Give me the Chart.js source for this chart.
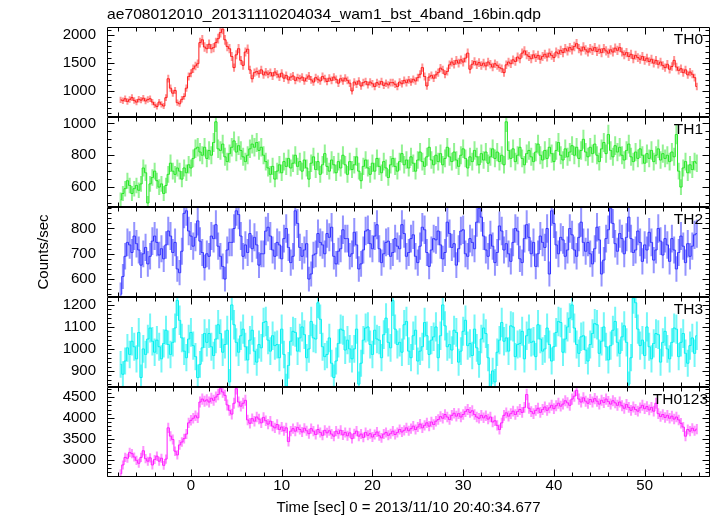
<!DOCTYPE html>
<html>
<head>
<meta charset="utf-8">
<script src="https://cdn.jsdelivr.net/npm/chart.js@4.4.1/dist/chart.umd.min.js"></script>
<style>
  html, body { margin: 0; padding: 0; background: #fff; }
  #wrap { width: 717px; height: 516px; }
</style>
</head>
<body>
<div id="wrap"><canvas id="lc" width="717" height="516"></canvas></div>
<script>
// 16-bin light curve: 0.25 s bins, first bin centre at -7.75 s
const T0 = -7.75;
const DT = 0.25;

const th0 = [
  840, 825, 860, 810, 845, 880, 830, 800, 850, 835, 870, 820, 845, 860, 800, 750, 720, 800, 760, 730,
  880, 1220, 1050, 960, 1010, 790, 770, 850, 900, 1050, 1260, 1320, 1400, 1450, 1490, 1870, 1920, 1790, 1760, 1840,
  1760, 1780, 1870, 1940, 2050, 2110, 1920, 1800, 1760, 1620, 1420, 1650, 1760, 1550, 1460, 1700, 1750, 1380, 1220, 1330,
  1350, 1310, 1380, 1290, 1340, 1300, 1330, 1270, 1340, 1300, 1250, 1320, 1230, 1280, 1200, 1250, 1270, 1190, 1240, 1220,
  1250, 1180, 1230, 1270, 1200, 1160, 1240, 1210, 1180, 1260, 1220, 1170, 1230, 1190, 1250, 1210, 1140, 1220, 1180, 1230,
  1190, 1140, 1000, 1160, 1120, 1180, 1090, 1150, 1170, 1110, 1160, 1130, 1080, 1150, 1120, 1170, 1100, 1140, 1110, 1150,
  1150, 1120, 1080, 1160, 1130, 1190, 1150, 1200, 1160, 1210, 1180, 1240, 1300, 1420, 1260, 1090, 1250, 1280, 1230, 1290,
  1330, 1410, 1380, 1300, 1350, 1470, 1520, 1480, 1550, 1500, 1560, 1520, 1590, 1680, 1390, 1480, 1530, 1470, 1510, 1460,
  1500, 1450, 1520, 1480, 1430, 1490, 1460, 1420, 1400, 1330, 1470, 1520, 1490, 1560, 1530, 1610, 1580, 1680, 1720, 1650,
  1620, 1580, 1650, 1600, 1640, 1570, 1620, 1660, 1610, 1680, 1640, 1600, 1700, 1670, 1730, 1690, 1760, 1720, 1780, 1740,
  1800, 1850, 1760, 1720, 1790, 1740, 1700, 1760, 1730, 1780, 1710, 1750, 1690, 1760, 1720, 1680, 1740, 1700, 1770, 1730,
  1780, 1700, 1650, 1690, 1620, 1660, 1580, 1640, 1600, 1570, 1620, 1550, 1590, 1530, 1570, 1500, 1550, 1480, 1520, 1460,
  1420, 1480, 1390, 1440, 1550, 1430, 1370, 1400, 1330, 1380, 1290, 1340, 1300, 1240, 1080
];
const th1 = [
  520, 560, 590, 640, 610, 560, 590, 610, 580, 620, 720, 690, 500, 620, 660, 700, 640, 600, 620, 560,
  610, 680, 750, 700, 680, 720, 700, 650, 720, 690, 740, 720, 780, 840, 850, 820, 800, 850, 780, 830,
  800, 880, 1010, 840, 830, 870, 790, 760, 810, 850, 890, 820, 860, 830, 790, 760, 800, 840, 870, 850,
  880, 830, 850, 800, 760, 720, 680, 730, 650, 700, 740, 690, 760, 730, 780, 720, 750, 800, 730, 760,
  700, 770, 720, 650, 750, 790, 710, 760, 680, 740, 810, 730, 700, 770, 740, 690, 760, 720, 800, 740,
  680, 760, 710, 740, 790, 700, 640, 730, 770, 720, 680, 750, 700, 780, 730, 690, 760, 720, 660, 740,
  780, 730, 700, 760, 810, 740, 770, 720, 790, 750, 700, 770, 820, 760, 730, 790, 850, 770, 740, 800,
  760, 810, 740, 780, 850, 790, 760, 820, 770, 730, 800, 840, 780, 720, 790, 760, 830, 790, 740, 810,
  770, 820, 750, 790, 840, 780, 820, 760, 800, 740, 1010, 830, 780, 840, 760, 800, 850, 780, 740, 810,
  830, 790, 760, 820, 870, 800, 770, 830, 780, 850, 810, 760, 830, 880, 800, 770, 840, 790, 820, 860,
  800, 850, 780, 830, 900, 820, 790, 850, 810, 870, 800, 760, 840, 880, 810, 930, 830, 790, 860, 820,
  850, 800, 770, 830, 870, 790, 760, 820, 780, 840, 800, 750, 810, 780, 830, 760, 800, 840, 770, 810,
  780, 800, 760, 820, 790, 930, 700, 600, 720, 760, 690, 740, 710, 760, 750
];
const th2 = [
  540, 610, 690, 745, 735, 705, 770, 740, 715, 655, 700, 725, 660, 690, 750, 770, 745, 695, 720, 680,
  735, 790, 770, 705, 745, 640, 625, 710, 860, 870, 790, 770, 730, 765, 830, 750, 705, 645, 700, 690,
  770, 760, 815, 730, 690, 650, 600, 715, 745, 745, 800, 870, 855, 770, 690, 735, 705, 780, 720, 765,
  735, 655, 700, 700, 790, 805, 770, 715, 690, 745, 735, 680, 760, 800, 725, 665, 690, 870, 820, 725,
  690, 715, 740, 600, 620, 695, 700, 780, 745, 735, 700, 780, 765, 805, 690, 660, 710, 720, 795, 760,
  760, 690, 700, 785, 735, 640, 660, 715, 790, 795, 740, 720, 770, 815, 720, 665, 700, 745, 750, 690,
  705, 760, 730, 720, 815, 780, 690, 705, 760, 775, 690, 665, 730, 805, 795, 705, 650, 715, 760, 755,
  790, 735, 680, 705, 825, 780, 725, 740, 655, 720, 790, 795, 700, 690, 760, 745, 720, 825, 880, 845,
  770, 715, 690, 775, 730, 665, 705, 810, 790, 715, 740, 700, 670, 745, 800, 790, 680, 665, 760, 815,
  765, 700, 745, 650, 700, 770, 745, 725, 800, 620, 870, 820, 735, 700, 765, 755, 690, 715, 800, 775,
  715, 690, 765, 825, 745, 710, 745, 700, 660, 720, 805, 755, 620, 675, 760, 795, 880, 820, 740, 710,
  780, 760, 700, 765, 845, 760, 705, 715, 790, 745, 670, 735, 715, 785, 745, 675, 715, 800, 750, 695,
  760, 735, 670, 760, 715, 640, 705, 770, 730, 665, 740, 690, 730, 775, 780
];
const th3 = [
  930, 885, 945, 1005, 975, 1035, 1010, 955, 1075, 870, 1000, 975, 1045, 1095, 1035, 985, 1040, 1010, 955, 1025,
  1085, 1020, 975, 1030, 1095, 1220, 1130, 1050, 990, 960, 1045, 1075, 1015, 965, 870, 930, 1005, 1070, 1030, 1070,
  1010, 970, 1045, 1110, 1070, 985, 1020, 1085, 850, 1200, 1110, 1030, 985, 1060, 1090, 1010, 950, 1040, 1085, 990,
  940, 1020, 1005, 1120, 1125, 1040, 990, 1060, 1015, 1020, 960, 1090, 975, 830, 925, 1035, 1080, 1075, 990, 1050,
  1100, 1065, 960, 1000, 1125, 1050, 1045, 1210, 1135, 1010, 965, 975, 1050, 935, 870, 945, 1025, 1090, 1085, 995,
  1040, 1000, 955, 1000, 1090, 840, 935, 1040, 1095, 1100, 1020, 975, 1085, 1045, 1040, 960, 1065, 1140, 1030, 1005,
  1220, 1090, 1020, 1030, 985, 1110, 1125, 990, 960, 1060, 1085, 945, 990, 1010, 1120, 1060, 975, 1040, 1055, 1100,
  960, 1060, 1200, 1105, 1010, 1020, 995, 1085, 1075, 940, 990, 1080, 1130, 1015, 1025, 970, 1090, 1005, 930, 1045,
  1095, 1070, 960, 830, 900, 850, 985, 1040, 1120, 1035, 1050, 990, 1105, 1100, 965, 1020, 1025, 1080, 955, 1060,
  1090, 1030, 1035, 965, 1110, 1045, 990, 1000, 1095, 1020, 945, 1010, 1075, 1125, 1120, 985, 1045, 1100, 1140, 1200,
  1095, 1020, 980, 1055, 1060, 995, 945, 1020, 1070, 1115, 1110, 980, 1035, 1100, 1010, 950, 1015, 1085, 1125, 1030,
  980, 1055, 1105, 1030, 840, 960, 1230, 1210, 1090, 1015, 1040, 970, 1100, 1010, 955, 1025, 1070, 1065, 940, 1030,
  1080, 1000, 955, 1030, 1095, 1090, 965, 1030, 1070, 980, 935, 1015, 1050, 980, 1060
];
const th0123 = [
  2660, 2870, 3050, 3030, 3170, 3140, 3060, 2980, 2910, 3050, 3210, 3020, 2960, 3040, 2870, 3000, 3080, 2960, 3030, 2860,
  3010, 3760, 3560, 3480, 3200, 3110, 3350, 3420, 3500, 3610, 3880, 3940, 3990, 4050, 4000, 4380, 4450, 4400, 4430, 4380,
  4470, 4420, 4500, 4560, 4700, 4620, 4540, 4310, 4180, 4090, 4350, 4700, 4380, 4280, 4350, 4420, 3950, 3870, 3980, 3920,
  4020, 3970, 3880, 4010, 3930, 3850, 3920, 3800, 3760, 3840, 3720, 3780, 3690, 3760, 3430, 3680, 3740, 3680, 3770, 3720,
  3660, 3750, 3690, 3620, 3740, 3680, 3600, 3720, 3650, 3580, 3700, 3640, 3690, 3610, 3560, 3680, 3620, 3700, 3590, 3650,
  3570, 3640, 3500, 3620, 3680, 3560, 3610, 3530, 3650, 3580, 3620, 3540, 3600, 3660, 3570, 3520, 3610, 3650, 3580, 3620,
  3680, 3600, 3650, 3720, 3660, 3700, 3760, 3690, 3740, 3800, 3720, 3780, 3850, 3760, 3820, 3880, 3800, 3900, 3840, 3920,
  3960, 4030, 3990, 4080, 4020, 3960, 4060, 4110, 4040, 4100, 4020, 4080, 4150, 4200, 4130, 4170, 4080, 4020, 3990, 4060,
  4000, 4050, 3970, 4020, 3900, 3930, 3820, 3720, 3880, 4060, 4120, 4040, 4100, 4160, 4080, 4150, 4200, 4130, 4250, 4560,
  4230, 4150, 4100, 4180, 4230, 4130, 4200, 4260, 4180, 4240, 4300, 4220, 4290, 4350, 4280, 4330, 4410, 4360, 4300, 4450,
  4520, 4660, 4450, 4380, 4480, 4400, 4350, 4440, 4380, 4460, 4400, 4330, 4420, 4370, 4450, 4390, 4330, 4410, 4360, 4300,
  4380, 4290, 4230, 4320, 4250, 4180, 4260, 4200, 4160, 4240, 4300, 4220, 4270, 4190, 4250, 4160, 4350, 4100, 4030, 4080,
  4010, 4060, 3990, 4040, 3970, 4020, 3950, 3870, 3780, 3560, 3720, 3680, 3750, 3690, 3730
];

const bands = ['TH0', 'TH1', 'TH2', 'TH3', 'TH0123'];
const series = [th0, th1, th2, th3, th0123];
const yMin = [532, 475, 529, 827, 2580];
const yMax = [2150, 1040, 885, 1236, 4740];
const yMajor = [500, 200, 100, 100, 500];
const yMinor = [100, 50, 20, 20, 100];
const xRange = [-9.25, 57.2];
const xTicks = [0, 10, 20, 30, 40, 50];

const lineColors = ['#ff1a1a', '#22e622', '#3030ff', '#00f0f0', '#ff1aff'];
const errColors = ['rgba(255,40,40,0.5)', 'rgba(40,230,40,0.5)', 'rgba(60,60,255,0.55)',
                   'rgba(0,240,240,0.55)', 'rgba(255,40,255,0.5)'];
const labelRight = [703, 703, 703, 703, 708];

const FONT = "'Liberation Sans', Arial, sans-serif";
Chart.defaults.font.family = FONT;
Chart.defaults.color = '#000';

function majorTicks(k) {
  const out = [];
  for (let v = Math.ceil(yMin[k] / yMajor[k]) * yMajor[k]; v <= yMax[k]; v += yMajor[k]) out.push({ value: v });
  return out;
}

const scales = {
  x: {
    type: 'linear', min: xRange[0], max: xRange[1],
    grid: { display: false, drawTicks: false }, border: { display: false },
    ticks: { padding: 0, maxRotation: 0, autoSkip: false, font: { size: 15 }, callback: v => String(v) },
    afterBuildTicks: s => { s.ticks = xTicks.map(v => ({ value: v })); },
    afterFit: s => { s.height = 39; }
  }
};
bands.forEach((b, k) => {
  scales['y' + k] = {
    type: 'linear', position: 'left', stack: 'panels', stackWeight: 1, weight: bands.length - k,
    min: yMin[k], max: yMax[k],
    grid: { display: false, drawTicks: false }, border: { display: false },
    ticks: { padding: 11, autoSkip: false, font: { size: 15 }, callback: v => String(v) },
    afterBuildTicks: s => { s.ticks = majorTicks(k); },
    afterFit: s => { s.width = 107; }
  };
});

function fitText(ctx, text, x, y, width) {
  const w = ctx.measureText(text).width;
  ctx.save();
  ctx.translate(x, y);
  ctx.scale(width / w, 1);
  ctx.textAlign = 'left';
  ctx.fillText(text, 0, 0);
  ctx.restore();
}

const qdpPlugin = {
  id: 'qdp',
  beforeDatasetDraw(chart, args) {
    const k = args.index;
    const ys = chart.scales['y' + k];
    const area = chart.chartArea;
    const ctx = chart.ctx;
    ctx.save();
    ctx.beginPath();
    ctx.rect(area.left, ys.top, area.right - area.left, ys.bottom - ys.top);
    ctx.clip();
    // counting-statistics error bars
    ctx.strokeStyle = errColors[k];
    ctx.lineWidth = 2;
    ctx.beginPath();
    args.meta.data.forEach((pt, i) => {
      const v = series[k][i];
      const e = Math.sqrt(v * DT) / DT;
      ctx.moveTo(pt.x, ys.getPixelForValue(v - e));
      ctx.lineTo(pt.x, ys.getPixelForValue(v + e));
    });
    ctx.stroke();
  },
  afterDatasetDraw(chart) {
    chart.ctx.restore();
  },
  afterDraw(chart) {
    const ctx = chart.ctx;
    const area = chart.chartArea;
    const xs = chart.scales.x;
    ctx.save();
    ctx.strokeStyle = '#000';
    ctx.lineWidth = 1;
    const L = Math.round(area.left) + 0.5, R = Math.round(area.right) - 0.5;
    bands.forEach((b, k) => {
      const ys = chart.scales['y' + k];
      const top = Math.round(ys.top) + 0.5, bot = Math.round(ys.bottom) - 0.5;
      ctx.beginPath();
      ctx.rect(L, top, R - L, bot - top);
      for (let t = Math.ceil(xs.min / 2) * 2; t <= xs.max; t += 2) {
        const px = Math.round(xs.getPixelForValue(t)) + 0.5;
        const len = t % 10 === 0 ? 7 : 4;
        ctx.moveTo(px, top); ctx.lineTo(px, top + len);
        ctx.moveTo(px, bot); ctx.lineTo(px, bot - len);
      }
      const mn = yMinor[k];
      for (let v = Math.ceil(ys.min / mn) * mn; v <= ys.max; v += mn) {
        const py = Math.round(ys.getPixelForValue(v)) + 0.5;
        const len = v % yMajor[k] === 0 ? 7 : 4;
        ctx.moveTo(L, py); ctx.lineTo(L + len, py);
        ctx.moveTo(R, py); ctx.lineTo(R - len, py);
      }
      ctx.stroke();
      ctx.fillStyle = '#000';
      ctx.font = '15.5px ' + FONT;
      ctx.textAlign = 'right';
      ctx.textBaseline = 'alphabetic';
      ctx.fillText(b, labelRight[k], ys.top + 16.5);
    });

    ctx.fillStyle = '#000';
    ctx.textBaseline = 'alphabetic';
    ctx.font = '14.5px ' + FONT;
    fitText(ctx, 'ae708012010_20131110204034_wam1_bst_4band_16bin.qdp', 107, 19, 434);

    ctx.font = '15px ' + FONT;
    ctx.textAlign = 'center';
    ctx.fillText('Time [sec] 0 = 2013/11/10 20:40:34.677', (area.left + area.right) / 2, 511.5);

    ctx.save();
    ctx.translate(48, (area.top + area.bottom) / 2);
    ctx.rotate(-Math.PI / 2);
    ctx.fillText('Counts/sec', 0, 0);
    ctx.restore();
    ctx.restore();
  }
};

new Chart(document.getElementById('lc'), {
  type: 'line',
  data: {
    datasets: series.map((vals, k) => ({
      label: bands[k],
      data: vals.map((v, i) => ({ x: T0 + i * DT, y: v })),
      yAxisID: 'y' + k,
      borderColor: lineColors[k],
      borderWidth: 1,
      pointRadius: 0,
      stepped: 'middle',
      fill: false
    }))
  },
  options: {
    responsive: false,
    animation: false,
    devicePixelRatio: 1,
    layout: { padding: { top: 27, right: 7, left: 0, bottom: 0 } },
    plugins: { legend: { display: false }, tooltip: { enabled: false }, title: { display: false } },
    scales: scales
  },
  plugins: [qdpPlugin]
});
</script>
</body>
</html>
